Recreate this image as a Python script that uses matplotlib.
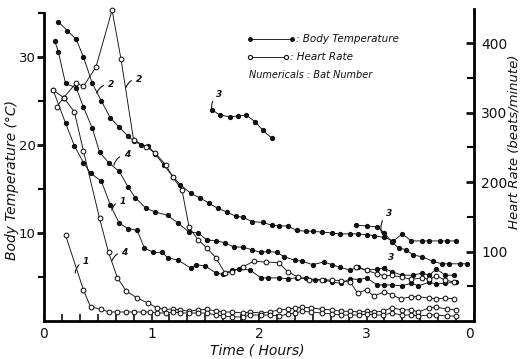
import numpy as np
import matplotlib
matplotlib.use("Agg")
import matplotlib.pyplot as plt
from matplotlib.ticker import MultipleLocator, FixedLocator

# ---------------- data (time in minutes) ----------------
bt2_min = [8,13,18,22,27,32,37,42,47,50,54,58,62,67,72,76,82,87,92,97,102,107,111,116,122,127,131,136,141,146,150,155,161,165,171,175,180,184,190,195,200,205,211,215,221,225,230]
bt2_temp = [34.0,33.0,32.0,30.0,27.0,25.0,23.1,22.0,21.0,20.5,20.0,19.9,19.0,17.7,16.4,15.5,14.5,14.0,13.4,12.8,12.4,11.9,11.8,11.3,11.2,10.9,10.8,10.8,10.3,10.2,10.2,10.1,10.0,9.9,9.9,9.9,9.8,9.7,9.5,9.1,9.9,9.1,9.1,9.1,9.1,9.1,9.1]

bt3a_min = [94,98,104,108,113,118,122,127]
bt3a_temp = [24.0,23.4,23.2,23.3,23.4,22.6,21.7,20.8]
bt3b_min = [174,180,186,190,194,198,202,206,211,217,222,226,232,236]
bt3b_temp = [10.9,10.8,10.7,10.0,9.0,8.3,8.1,7.5,7.3,6.8,6.5,6.5,6.5,6.5]

bt1_min = [6,8,12,18,22,27,31,36,42,47,51,57,62,69,75,81,86,91,96,101,106,111,116,121,125,130,134,140,144,150,156,161,165,171,175,180,186,190,194,200,206,211,215,219,224,229]
bt1_temp = [31.8,30.6,27.0,26.5,24.3,21.9,19.2,18.0,17.0,15.2,14.0,12.8,12.4,12.0,11.1,10.1,10.0,9.2,9.1,8.9,8.4,8.4,8.1,7.8,7.9,7.8,7.3,6.9,6.8,6.4,6.7,6.4,6.1,5.8,6.1,5.8,5.9,6.0,5.6,5.2,5.2,5.45,5.2,5.9,5.2,5.2]

bt4_min = [5,12,17,22,26,32,37,42,47,52,56,61,66,69,75,82,85,90,96,100,105,109,115,121,125,131,136,141,146,151,156,161,166,171,176,180,186,190,194,200,205,209,215,219,224,230]
bt4_temp = [26.3,22.5,19.9,18.0,16.8,15.9,13.2,11.1,10.5,10.3,8.3,7.8,7.8,7.2,6.9,6.0,6.4,6.25,5.45,5.3,5.8,5.9,5.8,4.9,4.9,4.9,4.8,4.9,4.9,4.7,4.7,4.4,4.3,4.8,4.7,4.9,4.1,4.1,4.1,4.0,4.3,4.0,4.4,4.2,4.3,4.4]

hr2_min = [5,11,18,22,29,38,43,50,57,62,68,72,77,81,86,91,96,101,105,111,117,124,131,136,142,148,155,161,166,171,175,180,184,190,194,199,205,209,215,219,224,229]
hr2_rate = [333,322,343,338,366,448,377,261,251,242,225,207,189,135,117,105,91,69,71,78,86,85,84,71,63,59,59,59,58,56,40,45,36,42,38,32,35,35,33,32,33,32]

hr3_min = [174,180,186,190,194,200,205,211,215,219,224,229]
hr3_rate = [78,73,68,65,66,63,60,62,60,65,59,56]

hr4_min = [7,11,17,22,31,36,41,46,52,58,63,67,72,76,81,86,91,96,100,105,111,115,121,126,131,136,140,144,149,155,161,166,171,176,180,184,189,194,200,205,209,215,219,225,230]
hr4_rate = [308,322,301,245,148,99,62,43,33,26,19,17,17,16,14,16,17,14,13,13,11.5,13,11.5,13,16,17,19,20,19,17,16,14,14,13,14,13,14,19,16,16,13,19,20,17,16]

hr1_min = [12,22,26,32,36,41,46,50,55,59,63,68,72,76,81,86,91,96,100,105,111,115,121,126,131,136,140,144,149,155,161,166,171,176,180,184,189,194,200,205,209,215,219,225,230]
hr1_rate = [124,45,20,17,13,13,13,13,13,13,11.5,11.5,13,11.5,11.5,11.5,11.5,8.6,7.2,5.8,5.8,8.6,8.6,8.6,7.2,10,11.5,14,13,11.5,10,8.6,8.6,8.6,10,8.6,8.6,11.5,8.6,8.6,7.2,8.6,8.6,7.2,7.2]

temp_ticks = [10, 20, 30]
temp_minor = [5, 15, 25, 35]
hr_ticks = [100, 200, 300, 400]
hr_minor = [50, 150, 250, 350]
time_ticks = [0, 1, 2, 3]

# bat-number labels: (text, hook point (h, degC), text point (h, degC))
bat_labels = [
    ("2", (0.49, 25.9), (0.62, 26.9)),
    ("2", (0.76, 26.5), (0.88, 27.5)),
    ("4", (0.65, 17.7), (0.77, 18.9)),
    ("1", (0.63, 12.6), (0.73, 13.6)),
    ("4", (0.63, 6.8), (0.75, 7.8)),
    ("1", (0.29, 5.45), (0.39, 6.8)),
    ("3", (1.56, 24.0), (1.63, 25.7)),
    ("3", (3.14, 10.0), (3.21, 12.2)),
    ("3", (3.19, 5.6), (3.23, 7.2)),
]

# ---------------- figure ----------------
W, H = 526, 359
fig = plt.figure(figsize=(W / 100, H / 100), dpi=100)
ax = fig.add_axes([44 / W, (H - 321) / H, 430 / W, 313 / H])
ax2 = ax.twinx()

ink = "#111111"
lw = 0.65
fill_kw = dict(color=ink, lw=lw, marker="o", ms=2.8, mfc=ink, mec=ink)
open_kw = dict(color=ink, lw=lw, marker="o", ms=3.4, mfc="white", mec=ink, mew=0.75)

def hrs(m):
    return np.asarray(m) / 60.0

for m, t in [(bt2_min, bt2_temp), (bt3a_min, bt3a_temp), (bt3b_min, bt3b_temp),
             (bt1_min, bt1_temp), (bt4_min, bt4_temp)]:
    ax.plot(hrs(m), t, clip_on=False, **fill_kw)

for m, r in [(hr2_min, hr2_rate), (hr3_min, hr3_rate), (hr4_min, hr4_rate), (hr1_min, hr1_rate)]:
    ax2.plot(hrs(m), r, clip_on=False, **open_kw)

ax.set_xlim(0, 4)
ax.set_ylim(0, 35.57)
ax2.set_ylim(0, 451)

for a in (ax, ax2):
    a.spines["top"].set_visible(False)
    a.patch.set_visible(False)
ax.spines["right"].set_visible(False)
ax2.spines["left"].set_visible(False)
ax2.spines["bottom"].set_visible(False)
ax.spines["left"].set_linewidth(2.0)
ax.spines["bottom"].set_linewidth(2.0)
ax2.spines["right"].set_linewidth(2.0)
ax.spines["left"].set_bounds(0, 35)
ax2.spines["right"].set_bounds(0, 450)

ax.set_xticks(time_ticks)
ax.xaxis.set_minor_locator(MultipleLocator(1 / 6))
ax.tick_params(axis="x", which="both", direction="in", length=5, width=1.2, pad=4,
               labelsize=10, colors=ink)
ax.set_yticks(temp_ticks)
ax.yaxis.set_minor_locator(FixedLocator(temp_minor))
ax.tick_params(axis="y", which="major", direction="out", length=5, width=2, pad=1,
               labelsize=9.5, colors=ink)
ax.tick_params(axis="y", which="minor", direction="out", length=4, width=1.5)

ax2.set_yticks(hr_ticks)
ax2.yaxis.set_minor_locator(FixedLocator(hr_minor))
ax2.tick_params(axis="y", which="major", direction="in", length=6, width=2, pad=5,
                labelsize=10, colors=ink)
ax2.tick_params(axis="y", which="minor", direction="in", length=5, width=1.5)

ax.text(0.99, -0.04, "0", transform=ax.transAxes, ha="center", va="center",
        fontsize=10, color=ink)

lab_kw = dict(fontstyle="italic", color=ink)
fig.text(12 / W, 1 - 180 / H, "Body Temperature (°C)", rotation=90, ha="center",
         va="center", fontsize=10, **lab_kw)
fig.text(514 / W, 1 - 142 / H, "Heart Rate (beats/minute)", rotation=90, ha="center",
         va="center", fontsize=9.5, **lab_kw)
fig.text(257 / W, 1 - 351 / H, "Time ( Hours)", ha="center", va="center",
         fontsize=10, **lab_kw)

# legend (drawn by hand as in the original)
def fx(px):
    return (px - 44) / 430
def fy(py):
    return (321 - py) / 313

ax.plot([fx(250), fx(292)], [fy(39), fy(39)], transform=ax.transAxes, clip_on=False,
        color=ink, lw=lw)
ax.plot([fx(250), fx(292)], [fy(39), fy(39)], transform=ax.transAxes, clip_on=False,
        ls="none", marker="o", ms=2.5, mfc=ink, mec=ink)
ax.plot([fx(250), fx(286)], [fy(57), fy(57)], transform=ax.transAxes, clip_on=False,
        color=ink, lw=lw)
ax.plot([fx(250), fx(286)], [fy(57), fy(57)], transform=ax.transAxes, clip_on=False,
        ls="none", marker="o", ms=3, mfc="white", mec=ink, mew=0.8)
ax.text(fx(296), fy(39), ": Body Temperature", transform=ax.transAxes, ha="left",
        va="center", fontsize=7.5, **lab_kw)
ax.text(fx(290), fy(57), ": Heart Rate", transform=ax.transAxes, ha="left",
        va="center", fontsize=7.5, **lab_kw)
ax.text(fx(249), fy(75), "Numericals : Bat Number", transform=ax.transAxes, ha="left",
        va="center", fontsize=7, **lab_kw)

for txt, xy, xyt in bat_labels:
    ax.annotate(txt, xy=xy, xytext=xyt, fontsize=6.5, fontweight="bold",
                fontstyle="italic", color=ink, ha="center", va="center",
                arrowprops=dict(arrowstyle="-", color=ink, lw=0.8, shrinkA=1, shrinkB=0,
                                connectionstyle="arc3,rad=0.35"))

fig.savefig("out.png", dpi=100)
